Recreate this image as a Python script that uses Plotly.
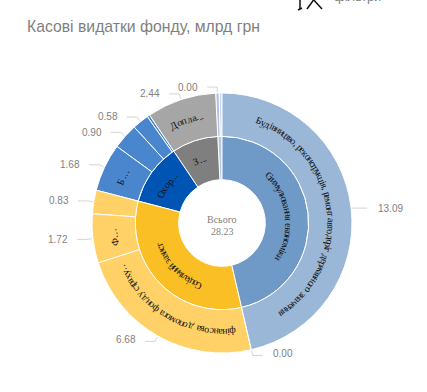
import math
import plotly.graph_objects as go

W, H = 427, 392
CX, CY, R = 222, 223, 130

title = "Касові видатки фонду, млрд грн"
total = 28.23
total_caption = "Всього"

inner_names = ["Стимулювання економіки", "Соціальний захист", "Охорона здоров'я", "Загальне", "Інше"]
inner_values = [13.09, 9.23, 3.25, 2.44, 0.22]
inner_colors = ["#6F99C6", "#FBBF26", "#0054B4", "#7F7F7F", "#B4C7E7"]
inner_short = ["Стимулювання економіки", "Соціальний захист", "Охор...", "З...", ""]
inner_span = [77, 50, 21, 9, 0]

outer_names = ["Будівництво, реконструкція, ремонт автодоріг державного значення", "Інші видатки",
               "фінансова допомога фонду страху…", "Фінансування", "Субвенція", "Боротьба", "Обладнання",
               "Медикаменти", "Вакцини", "Доплати", "Резерв", "Резервний"]
outer_parent = [0, 0, 1, 1, 1, 2, 2, 2, 2, 3, 4, 4]
outer_values = [13.09, 0.00, 6.68, 1.72, 0.83, 1.68, 0.90, 0.58, 0.09, 2.44, 0.12, 0.10]
outer_colors = ["#9BB7D8", "#9BB7D8", "#FFD166", "#FFD166", "#FFD166", "#4A86CE", "#4A86CE", "#4A86CE",
                "#4A86CE", "#A6A6A6", "#B4C0E4", "#C5D9F1"]
outer_value_text = ["13.09", "0.00", "6.68", "1.72", "0.83", "1.68", "0.90", "0.58", "", "2.44", "0.00", ""]
outer_short = ["Будівництво, реконструкція, ремонт автодоріг державного значення", "",
               "фінансова допомога фонду страху…", "Ф...", "", "Б...", "", "", "", "Допла...", "", ""]
outer_span = [127, 0, 70, 6.5, 0, 6.5, 0, 0, 0, 16, 0, 0]

GREY = "#7F7F7F"
LEADER = "#D4D4D4"

# The sunburst lays sectors out counterclockwise, so the clockwise reading order is passed reversed.
ids = ["root"] + [f"i{i}" for i in range(len(inner_names))][::-1] + [f"o{i}" for i in range(len(outer_names))][::-1]
labels = [total_caption] + inner_names[::-1] + outer_names[::-1]
parents = [""] + ["root"] * len(inner_names) + [f"i{p}" for p in outer_parent][::-1]
values = [total] + inner_values[::-1] + outer_values[::-1]
colors = ["#FFFFFF"] + inner_colors[::-1] + outer_colors[::-1]


def px(x, y):
    return x / W, 1 - y / H


def polar(angle, radius):
    a = math.radians(angle)
    return CX + radius * math.sin(a), CY - radius * math.cos(a)


NARROW = set("іїlтгр,'… ")
WIDE = set("мшщюжфдМШЩЮЖФД")


def char_w(c):
    if c == ".":
        return 0.45
    return 0.65 if c in NARROW else 1.35 if c in WIDE else 1.0


annotations = []


def curved(text, mid, span, radius):
    widths = [char_w(c) for c in text]
    tot = sum(widths) - (widths[0] + widths[-1]) / 2
    pos = 0.0
    for i, c in enumerate(text):
        if i > 0:
            pos += (widths[i - 1] + widths[i]) / 2
        ang = mid - span / 2 + span * pos / tot
        if c == " ":
            continue
        x, y = px(*polar(ang, radius))
        annotations.append(dict(x=x, y=y, xref="paper", yref="paper", text=c, showarrow=False,
                                textangle=ang, xanchor="center", yanchor="middle",
                                font=dict(family="Liberation Serif", size=10, color="#111111")))


deg = 360 / total
cum = 0
for name, v, span in zip(inner_short, inner_values, inner_span):
    if name:
        curved(name, (cum + v / 2) * deg, span, 67)
    cum += v

shapes = []
cum = 0
for name, v, span, lab in zip(outer_short, outer_values, outer_span, outer_value_text):
    mid = (cum + v / 2) * deg
    if name:
        curved(name, mid, span, 109)
    if lab:
        p0 = polar(mid, R + 1)
        p1 = polar(mid, R + 6)
        side = 1 if math.sin(math.radians(mid)) >= 0 else -1
        run, gap = 10, 8 if side > 0 else 7
        if abs(mid - 83.4) < 5:
            p1 = (p0[0] + 1, p0[1])
            run, gap = 14, 9
        p2 = (p1[0] + side * run, p1[1])
        for a, b in ((p0, p1), (p1, p2)):
            (x0, y0), (x1, y1) = px(*a), px(*b)
            shapes.append(dict(type="line", xref="paper", yref="paper", x0=x0, y0=y0, x1=x1, y1=y1,
                               line=dict(color=LEADER, width=1)))
        x, y = px(p2[0] + side * gap, p2[1] - (0 if math.cos(math.radians(mid)) > -0.3 else 2))
        annotations.append(dict(x=x, y=y, xref="paper", yref="paper", text=lab, showarrow=False,
                                xanchor="left" if side > 0 else "right", yanchor="middle",
                                font=dict(family="Liberation Sans", size=10, color=GREY)))
    cum += v

# centre caption
for txt, yy in ((total_caption, 220), (f"{total:.2f}", 231)):
    x, y = px(CX, yy)
    annotations.append(dict(x=x, y=y, xref="paper", yref="paper", text=txt, showarrow=False,
                            xanchor="center", yanchor="middle",
                            font=dict(family="Liberation Serif", size=10, color=GREY)))

# title and the cropped toolbar item above it
x, y = px(25, 26)
annotations.append(dict(x=x, y=y, xref="paper", yref="paper", text=title, showarrow=False,
                        xanchor="left", yanchor="middle",
                        font=dict(family="Liberation Sans", size=15.75, color=GREY)))
x, y = px(332, -3)
annotations.append(dict(x=x, y=y, xref="paper", yref="paper", text="фільтри", showarrow=False,
                        xanchor="left", yanchor="middle",
                        font=dict(family="Liberation Sans", size=13, color=GREY)))
for a, b in (((300, -2), (300, 9)), ((298, 10), (302, 8)), ((307, 9), (315, -2)), ((322, 9), (312, -2))):
    (x0, y0), (x1, y1) = px(*a), px(*b)
    shapes.append(dict(type="line", xref="paper", yref="paper", x0=x0, y0=y0, x1=x1, y1=y1,
                       line=dict(color="#111111", width=1.5)))

fig = go.Figure(go.Sunburst(
    ids=ids, labels=labels, parents=parents, values=values,
    branchvalues="total", sort=False, rotation=90,
    marker=dict(colors=colors, line=dict(color="#FFFFFF", width=1)),
    leaf=dict(opacity=1), textinfo="none", hoverinfo="label+value",
    domain=dict(x=[(CX - R) / W, (CX + R) / W], y=[1 - (CY + R) / H, 1 - (CY - R) / H]),
))
fig.update_layout(width=W, height=H, margin=dict(l=0, r=0, t=0, b=0), paper_bgcolor="white",
                  annotations=annotations, shapes=shapes, showlegend=False)
fig.write_html("out.html", config=dict(displayModeBar=False),
               post_script="document.body.style.margin='0';document.documentElement.style.overflow='hidden';")
